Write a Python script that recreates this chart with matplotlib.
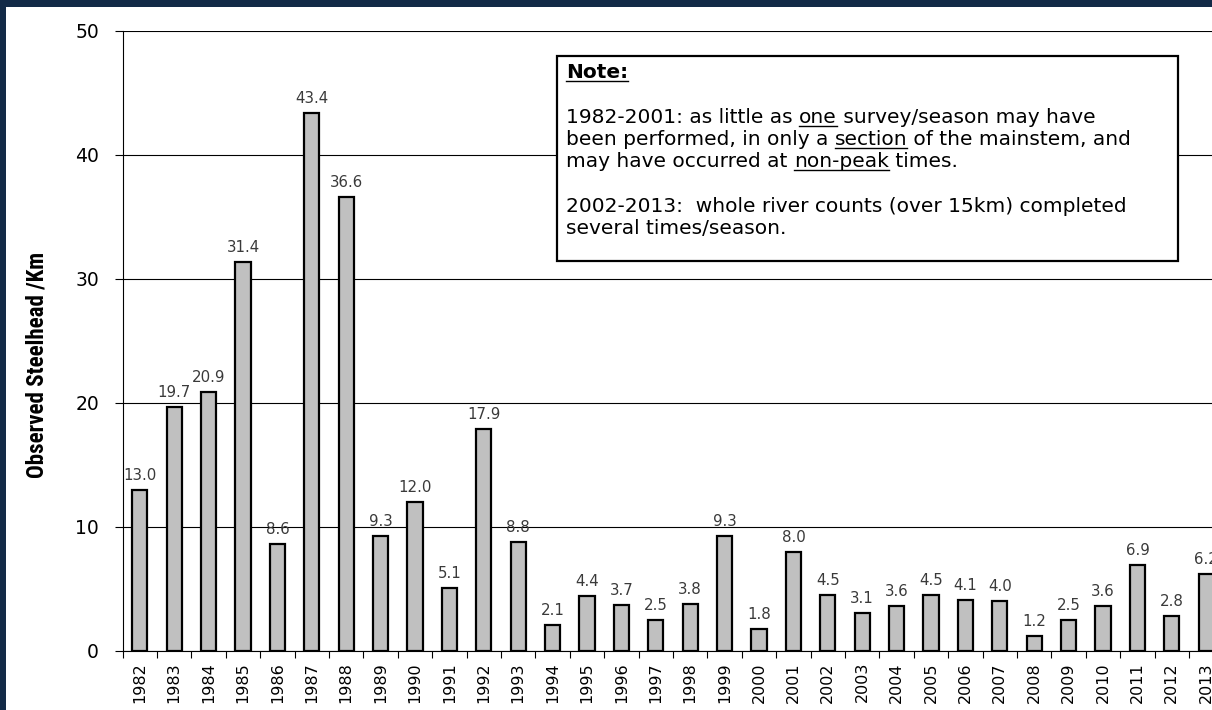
import numpy as np
import matplotlib
matplotlib.use("Agg")
from matplotlib import pyplot as plt
from matplotlib.patches import Rectangle
from matplotlib.lines import Line2D

years = [str(y) for y in range(1982, 2014)]
steelhead_per_km = [13.0, 19.7, 20.9, 31.4, 8.6, 43.4, 36.6, 9.3, 12.0, 5.1,
                    17.9, 8.8, 2.1, 4.4, 3.7, 2.5, 3.8, 9.3, 1.8, 8.0,
                    4.5, 3.1, 3.6, 4.5, 4.1, 4.0, 1.2, 2.5, 3.6, 6.9,
                    2.8, 6.2]
yticks = [0, 10, 20, 30, 40, 50]

# note text, pieces are (text, underlined, bold)
note_lines = [
    [("Note:", True, True)],
    [("1982-2001: as little as ", False, False), ("one", True, False), (" survey/season may have", False, False)],
    [("been performed, in only a ", False, False), ("section", True, False), (" of the mainstem, and", False, False)],
    [("may have occurred at ", False, False), ("non-peak", True, False), (" times.", False, False)],
    [("2002-2013:  whole river counts (over 15km) completed", False, False)],
    [("several times/season.", False, False)],
]

W, H = 1212, 710
NAVY = '#132a47'
plt.rcParams['font.family'] = ['DejaVu Sans']

fig = plt.figure(figsize=(W/100, H/100), dpi=100, facecolor=NAVY)
# white panel, navy strip only on left and top
fig.add_artist(Rectangle((6/W, 0), 1, 1 - 7/H, transform=fig.transFigure,
                         facecolor='white', edgecolor='none', zorder=-5))

# axes runs a bit past the right edge, like the original
ax = fig.add_axes([122.6/W, 59/H, 1100.8/W, 620/H])
ax.set_facecolor('white')

x = np.arange(len(years))
bars = ax.bar(x, steelhead_per_km, width=0.44, color='#c0c0c0',
              edgecolor='black', linewidth=1.6, zorder=3)
ax.bar_label(bars, labels=[f"{v:.1f}" for v in steelhead_per_km],
             padding=5, fontsize=10.8, color='#3a3a3a')

ax.set_xlim(-0.5, len(years) - 0.5)
ax.set_ylim(0, 50)
ax.set_yticks(yticks)
ax.yaxis.grid(True, color='black', linewidth=0.8, zorder=0)
ax.set_axisbelow(True)

ax.set_xticks(x)
ax.set_xticklabels(years, rotation=90, fontsize=11.5)
ax.set_xticks(np.arange(-0.5, len(years)), minor=True)
ax.tick_params(axis='x', which='major', length=0, pad=8)
ax.tick_params(axis='x', which='minor', length=5, width=0.8, direction='out')
ax.tick_params(axis='y', length=6, width=0.8, pad=11, labelsize=13.5)

for s in ['top', 'right']:
    ax.spines[s].set_visible(False)
ax.spines['left'].set_linewidth(0.8)
ax.spines['bottom'].set_linewidth(0.8)

ax.set_ylabel('Observed Steelhead /Km', fontsize=16.5, fontweight='bold',
              family=['Liberation Sans Narrow', 'DejaVu Sans Condensed',
                      'Roboto Condensed', 'Liberation Sans'], va='center')
ax.yaxis.set_label_coords((37 - 122.6)/1100.8, (651 - 365)/620)

# note box
bx0, by0, bx1, by1 = 557, 56, 1178, 261
ax.add_patch(Rectangle((bx0/W, 1 - by1/H), (bx1 - bx0)/W, (by1 - by0)/H,
                       transform=fig.transFigure, facecolor='white',
                       edgecolor='black', linewidth=1.6, zorder=6, clip_on=False))

renderer = fig.canvas.get_renderer()
baselines = [78, 123, 145, 167, 212, 234]
note_size = 14.5
for pieces, base in zip(note_lines, baselines):
    xp = 566
    for txt, under, bold in pieces:
        t = fig.text(xp/W, 1 - base/H, txt, fontsize=note_size,
                     fontweight='bold' if bold else 'normal',
                     ha='left', va='baseline', color='black', zorder=7)
        bb = t.get_window_extent(renderer)
        if under:
            yl = (H - base - 3)/H
            fig.add_artist(Line2D([bb.x0/W, bb.x1/W], [yl, yl], transform=fig.transFigure,
                                  color='black', linewidth=1.0, zorder=7))
        xp += bb.width

fig.savefig('out.png', dpi=100, facecolor=NAVY)
